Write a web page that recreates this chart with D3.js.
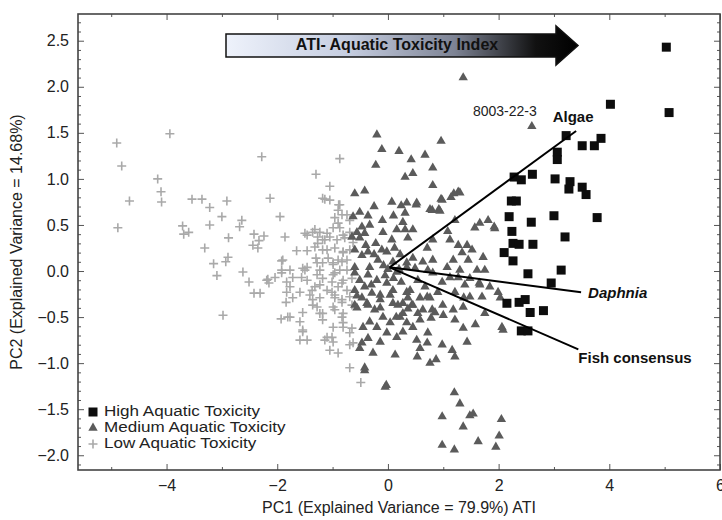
<!DOCTYPE html>
<html><head><meta charset="utf-8">
<script src="https://cdn.jsdelivr.net/npm/d3@7"></script>
<style>body{margin:0;background:#fff;} svg{display:block;font-family:"Liberation Sans",Arial,sans-serif;}</style>
</head><body><svg id="c" width="722" height="520"></svg>
<script>
// ---- data (PC1, PC2) ----
const highPoints = [[5.03,2.43],[4.02,1.81],[5.08,1.72],[3.22,1.47],[3.51,1.36],[3.73,1.36],[3.85,1.44],[3.06,1.29],[3.06,1.21],[2.61,1.05],[2.28,1.02],[2.41,0.99],[3.02,1.00],[3.29,0.97],[3.27,0.89],[3.51,0.91],[3.58,0.83],[2.23,0.76],[2.32,0.76],[2.19,0.59],[2.59,0.53],[3.00,0.60],[3.78,0.58],[2.24,0.43],[3.20,0.37],[2.26,0.30],[2.37,0.29],[2.62,0.29],[2.10,0.20],[2.26,0.11],[2.53,-0.03],[3.13,0.01],[2.95,-0.13],[2.15,-0.35],[2.37,-0.34],[2.48,-0.31],[2.57,-0.45],[2.81,-0.43],[2.41,-0.65],[2.53,-0.65]];
const mediumPoints = [[1.36,2.10],[2.60,1.57],[0.96,1.41],[-0.20,1.48],[-0.11,1.32],[-0.22,1.15],[0.20,1.30],[0.67,1.26],[0.42,1.21],[0.81,1.12],[0.31,1.02],[0.45,1.06],[0.81,0.93],[1.27,0.86],[1.19,0.84],[1.14,0.80],[0.96,0.78],[1.30,0.85],[0.07,0.75],[0.24,0.71],[0.51,0.72],[0.76,0.67],[0.92,0.67],[-0.60,0.84],[-0.42,0.87],[-0.51,0.64],[-0.36,0.60],[-0.63,0.59],[0.31,0.63],[-0.33,0.50],[-0.47,0.48],[-0.56,0.42],[-0.42,0.41],[-0.65,0.37],[-0.51,0.36],[-0.09,0.42],[0.16,0.45],[0.07,0.34],[0.36,0.36],[-0.40,0.28],[-0.60,0.23],[-0.36,0.21],[-0.47,0.17],[-0.18,0.12],[-0.02,0.21],[-0.11,0.23],[0.09,0.10],[0.34,0.09],[-0.33,0.04],[-0.60,0.04],[0.16,-0.01],[-0.60,-0.02],[-0.36,-0.04],[-0.51,-0.10],[-0.20,-0.10],[-0.02,-0.13],[-0.42,-0.17],[-0.60,-0.21],[-0.29,-0.24],[-0.14,-0.26],[-0.47,-0.29],[0.09,-0.21],[0.34,-0.23],[-0.60,-0.37],[-0.36,-0.37],[-0.14,-0.40],[0.18,-0.37],
[-0.56,-0.27],[-0.38,-0.35],[-0.56,-0.40],[-0.24,-0.42],[-0.14,-0.31],[0.04,-0.26],[0.09,-0.35],[0.36,-0.29],[0.45,-0.37],[0.63,-0.42],[-0.09,-0.50],[-0.33,-0.55],[-0.45,-0.61],[-0.20,-0.61],[0.04,-0.56],[0.22,-0.50],[0.34,-0.56],[0.45,-0.61],[0.58,-0.53],[0.72,-0.67],[-0.02,-0.67],[-0.36,-0.73],[-0.47,-0.78],[-0.14,-0.77],[0.16,-0.72],[0.27,-0.66],[0.52,-0.75],[0.58,-0.84],[-0.51,-0.84],[-0.27,-0.89],[0.13,-0.91],[-0.42,-1.05],[-0.42,-1.08],[-0.05,-1.26],[-0.03,-1.24],[0.71,-0.78],[0.71,-0.28],
[0.34,0.74],[0.52,0.74],[0.98,0.77],[0.80,0.66],[0.94,0.65],[0.27,0.53],[0.31,0.45],[0.45,0.45],[1.21,0.55],[1.66,0.52],[1.81,0.55],[1.93,0.46],[1.57,0.47],[1.08,0.43],[0.81,0.34],[1.12,0.34],[0.71,0.25],[1.27,0.28],[1.43,0.28],[1.52,0.23],[1.34,0.20],[1.72,0.15],[1.18,0.12],[1.45,0.12],[0.81,0.12],[0.63,0.10],[0.45,0.14],[0.34,0.04],[1.07,0.04],[1.30,0.01],[1.61,0.01],[1.75,0.01],[0.49,0.03],[0.72,0.01],[0.81,-0.02],[1.12,-0.07],[1.27,-0.07],[0.98,-0.12],[1.48,-0.08],[0.54,-0.10],[1.39,-0.15],[1.66,-0.15],[1.84,-0.17],[0.67,-0.17],[0.40,-0.21],[1.21,-0.23],[0.90,-0.23],[1.48,-0.28],[0.76,-0.29],[0.58,-0.29],[1.70,-0.28],[2.03,-0.29],[0.27,-0.35],[0.43,-0.37],[0.99,-0.37],[1.36,-0.39],[1.18,-0.42],[0.85,-0.45],[0.54,-0.46],[0.27,-0.46],[0.36,-0.41],
[0.53,-0.93],[0.76,-1.00],[0.87,-0.96],[1.21,-0.93],[1.16,-0.86],[1.43,-0.77],[0.98,-0.80],[2.08,-0.64],[1.58,-0.58],[1.36,-0.62],[1.21,-0.53],[1.00,-0.48],[0.78,-0.51],[0.80,-0.42],
[1.92,0.48],[1.65,-0.13],[1.99,-0.23],[2.06,-0.61],[1.75,-0.46],[1.37,-0.29],
[1.20,-1.32],[1.30,-1.44],[0.98,-1.58],[1.48,-1.57],[1.54,-1.55],[1.36,-1.69],[2.05,-1.61],[1.63,-1.85],[0.98,-1.89],[1.20,-1.94],[2.01,-1.79],[1.95,-1.91],
[0.00,0.02],[0.10,-0.08],[-0.08,0.06],[0.22,0.18],[-0.22,0.30],[0.24,-0.12],[-0.25,0.18],[0.12,0.25],[-0.05,-0.05],[0.20,0.02],[-0.30,-0.15],[0.15,-0.50],[-0.10,0.55],[0.10,0.60],[-0.25,0.70]];
const lowPoints = [[-4.90,1.39],[-4.81,1.14],[-4.67,0.76],[-4.88,0.47],[-3.94,1.49],[-4.16,1.00],[-4.10,0.86],[-4.09,0.75],[-3.54,0.78],[-3.36,0.78],[-3.22,0.69],[-2.91,0.76],[-3.00,0.59],[-3.22,0.50],[-3.71,0.49],[-3.69,0.40],[-3.60,0.42],[-3.31,0.25],[-2.88,0.36],[-2.64,0.55],[-2.68,0.48],[-2.28,1.24],[-2.13,0.79],[-2.42,0.40],[-2.33,0.33],[-2.24,0.38],[-2.44,0.28],[-2.35,0.25],[-1.95,0.59],[-1.86,0.37],[-3.15,0.08],[-2.93,0.10],[-2.89,0.15],[-2.62,-0.01],[-3.09,-0.05],[-2.51,-0.12],[-2.42,-0.24],[-2.31,-0.24],[-2.17,-0.09],[-2.15,-0.13],[-2.04,-0.07],[-1.92,-0.02],[-1.92,0.11],[-1.83,-0.12],[-1.83,-0.23],[-1.84,-0.34],[-1.93,-0.52],[-2.98,-0.48],[-1.81,-0.50],
[-0.87,1.22],[-1.30,1.05],[-1.05,0.92],[-1.14,0.78],[-1.05,0.77],[-0.89,0.72],[-0.90,0.66],[-0.96,0.58],[-0.83,0.61],[-0.99,0.47],[-0.87,0.47],[-1.46,0.39],[-1.32,0.45],[-1.23,0.42],[-1.18,0.34],[-1.05,0.37],[-0.92,0.34],[-0.81,0.39],[-1.27,0.30],[-1.46,0.22],[-1.65,0.22],[-1.10,0.23],[-0.96,0.25],[-0.81,0.20],[-1.90,0.12],[-1.30,0.14],[-1.18,0.09],[-0.99,0.09],[-0.83,0.10],[-0.74,0.01],[-1.92,0.01],[-1.77,0.01],[-1.46,0.04],[-1.28,-0.04],[-0.96,-0.02],[-2.19,-0.10],[-1.56,-0.07],[-1.50,0.01],[-1.23,-0.15],[-1.01,-0.12],[-0.83,-0.13],[-1.37,-0.21],[-1.01,-0.23],[-0.96,-0.29],[-0.83,-0.31],[-1.36,-0.31],[-1.77,-0.50],[-1.54,-0.45],[-1.28,-0.39],[-1.18,-0.46],[-0.96,-0.42],[-0.81,-0.46],[-1.54,-0.64],[-1.46,-0.75],[-1.14,-0.75],[-1.01,-0.72],[-0.81,-0.61],[-0.69,-0.67],
[-1.18,0.79],[-0.87,0.72],[-0.74,0.61],[-0.69,0.55],[-0.90,0.52],[-1.50,0.41],[-1.36,0.42],[-1.27,0.37],[-1.10,0.41],[-1.14,0.34],[-0.78,0.36],[-0.69,0.42],[-0.63,0.31],[-1.32,0.26],[-1.18,0.23],[-0.81,0.21],[-0.69,0.23],[-1.08,0.14],[-0.90,0.12],[-0.74,0.12],[-1.28,0.09],[-0.99,0.07],[-1.54,0.03],[-1.23,0.01],[-0.87,0.01],[-0.99,-0.04],[-1.72,-0.07],[-1.46,-0.10],[-1.18,-0.08],[-0.81,-0.10],[-0.65,-0.08],[-1.77,-0.17],[-1.32,-0.17],[-1.10,-0.21],[-0.90,-0.17],[-0.74,-0.21],[-1.59,-0.23],[-1.41,-0.26],[-0.96,-0.26],[-0.69,-0.28],[-1.72,-0.29],[-1.23,-0.29],[-1.36,-0.37],[-0.99,-0.39],[-0.65,-0.37],
[-0.83,-0.34],[-1.23,-0.46],[-0.83,-0.50],[-1.59,-0.55],[-1.18,-0.53],[-0.99,-0.61],[-0.81,-0.56],[-0.65,-0.62],[-1.54,-0.66],[-1.59,-0.75],[-1.10,-0.72],[-0.99,-0.77],[-0.63,-0.78],[-1.05,-0.86],[-0.69,-0.80],[-0.90,-0.89],[-0.69,-1.05],[-0.49,-1.21]];
const loadings = [
  {name:"Algae", pc1:3.40, pc2:1.52},
  {name:"Daphnia", pc1:3.49, pc2:-0.23},
  {name:"Fish consensus", pc1:3.44, pc2:-0.85}];
const loadingOrigin = [0.03, 0.04];
const annotation = {text:"8003-22-3", pc1:2.60, pc2:1.57};
const xMajorTicks = [-4,-2,0,2,4,6];
const yMajorTicks = [-2.0,-1.5,-1.0,-0.5,0.0,0.5,1.0,1.5,2.0,2.5];
const legendLabels = ["High Aquatic Toxicity","Medium Aquatic Toxicity","Low Aquatic Toxicity"];
const xTitle = "PC1 (Explained Variance = 79.9%) ATI";
const yTitle = "PC2 (Explained Variance = 14.68%)";
const arrowTitle = "ATI- Aquatic Toxicity Index";

// ---- layout ----
const L=78, R=720, T=14, B=470;
const svg = d3.select("#c");
const x = d3.scaleLinear().domain([-5.6,6.0]).range([L,R]);
const y = d3.scaleLinear().domain([-2.16,2.79]).range([B,T]);
const fmtMinus = s => s.replace("-", "\u2212");
const xMinor = d3.range(-5,7,1).filter(v=>!xMajorTicks.includes(v));
const yMinor = d3.range(-21,28,1).map(v=>v/10).filter(v=>Math.abs(v*2-Math.round(v*2))>1e-6);

function styleAxis(g){ g.select(".domain").remove(); g.selectAll("line").attr("stroke","#555").attr("stroke-width",1); g.selectAll("text").attr("fill","#222").style("font-size","16px").style("font-family","Liberation Sans, Arial, sans-serif"); }

// bottom
svg.append("g").attr("transform",`translate(0,${B})`).call(d3.axisBottom(x).tickValues(xMajorTicks).tickSize(-6).tickPadding(10).tickFormat(d=>fmtMinus(d3.format("d")(d)))).call(styleAxis);
svg.append("g").attr("transform",`translate(0,${B})`).call(d3.axisBottom(x).tickValues(xMinor).tickSize(-3).tickFormat("")).call(styleAxis);
// top
svg.append("g").attr("transform",`translate(0,${T})`).call(d3.axisTop(x).tickValues(xMajorTicks).tickSize(-6).tickFormat("")).call(styleAxis);
svg.append("g").attr("transform",`translate(0,${T})`).call(d3.axisTop(x).tickValues(xMinor).tickSize(-3).tickFormat("")).call(styleAxis);
// left
svg.append("g").attr("transform",`translate(${L},0)`).call(d3.axisLeft(y).tickValues(yMajorTicks).tickSize(-6).tickPadding(9).tickFormat(d=>fmtMinus(d3.format(".1f")(d)))).call(styleAxis);
svg.append("g").attr("transform",`translate(${L},0)`).call(d3.axisLeft(y).tickValues(yMinor).tickSize(-3).tickFormat("")).call(styleAxis);
// right
svg.append("g").attr("transform",`translate(${R},0)`).call(d3.axisRight(y).tickValues(yMajorTicks).tickSize(-6).tickFormat("")).call(styleAxis);
svg.append("g").attr("transform",`translate(${R},0)`).call(d3.axisRight(y).tickValues(yMinor).tickSize(-3).tickFormat("")).call(styleAxis);
// frame
svg.append("rect").attr("x",L).attr("y",T).attr("width",R-L).attr("height",B-T).attr("fill","none").attr("stroke","#444").attr("stroke-width",1.6);

// titles
svg.append("text").attr("x",(L+R)/2).attr("y",513).attr("text-anchor","middle").style("font-size","16px").attr("fill","#222").text(xTitle);
svg.append("text").attr("transform",`translate(22,${(T+B)/2}) rotate(-90)`).attr("text-anchor","middle").style("font-size","16px").attr("fill","#222").text(yTitle);

// arrow banner
const defs = svg.append("defs");
const grad = defs.append("linearGradient").attr("id","ag").attr("x1","0%").attr("x2","100%");
grad.append("stop").attr("offset","0%").attr("stop-color","#eef2fb");
grad.append("stop").attr("offset","35%").attr("stop-color","#c5cde0");
grad.append("stop").attr("offset","65%").attr("stop-color","#7d8394");
grad.append("stop").attr("offset","88%").attr("stop-color","#111");
grad.append("stop").attr("offset","100%").attr("stop-color","#000");
const ax0=226, ax1=556, axTip=578, ay0=34, ay1=57, ah0=26, ah1=65;
svg.append("path").attr("d",`M${ax0},${ay0}H${ax1}V${ah0}L${axTip},${(ay0+ay1)/2}L${ax1},${ah1}V${ay1}H${ax0}Z`)
  .attr("fill","url(#ag)").attr("stroke","#111").attr("stroke-width",1.5);
svg.append("text").attr("x",397).attr("y",46).attr("text-anchor","middle").attr("dominant-baseline","middle")
  .style("font-size","16px").style("font-weight","bold").attr("fill","#111").text(arrowTitle);

// points
const sq = d3.symbol().type(d3.symbolSquare).size(81);
const tri = d3.symbol().type(d3.symbolTriangle).size(38);
const plusPath = "M-4.5,0H4.5M0,-4.5V4.5";
svg.append("g").selectAll("path").data(lowPoints).join("path")
  .attr("d",plusPath).attr("transform",d=>`translate(${x(d[0])},${y(d[1])})`)
  .attr("stroke","#a9a9a9").attr("stroke-width",1.6).attr("fill","none");
svg.append("g").selectAll("path").data(mediumPoints).join("path")
  .attr("d",tri).attr("transform",d=>`translate(${x(d[0])},${y(d[1])})`).attr("fill","#5b5b5b");
svg.append("g").selectAll("path").data(highPoints).join("path")
  .attr("d",sq).attr("transform",d=>`translate(${x(d[0])},${y(d[1])})`).attr("fill","#0d0d0d");

// loadings
const lg = svg.append("g");
lg.selectAll("line").data(loadings).join("line")
  .attr("x1",x(loadingOrigin[0])).attr("y1",y(loadingOrigin[1]))
  .attr("x2",d=>x(d.pc1)).attr("y2",d=>y(d.pc2)).attr("stroke","#000").attr("stroke-width",2);
const labOff = {"Algae":[-3,-13,"middle","normal"],"Daphnia":[7,2,"start","italic"],"Fish consensus":[0,10,"start","normal"]};
lg.selectAll("text").data(loadings).join("text")
  .attr("x",d=>x(d.pc1)+labOff[d.name][0]).attr("y",d=>y(d.pc2)+labOff[d.name][1])
  .attr("text-anchor",d=>labOff[d.name][2]).attr("dominant-baseline","middle")
  .style("font-style",d=>labOff[d.name][3]).style("font-weight","bold").style("font-size","15px").attr("fill","#111").text(d=>d.name);
svg.append("text").attr("x",x(annotation.pc1)-27).attr("y",y(annotation.pc2)-14).attr("text-anchor","middle").attr("dominant-baseline","middle")
  .style("font-size","14px").attr("fill","#222").text(annotation.text);

// legend
const leg = svg.append("g").attr("transform","translate(93,412)");
const items = leg.selectAll("g").data(legendLabels).join("g").attr("transform",(d,i)=>`translate(0,${i*16})`);
items.filter((d,i)=>i===0).append("path").attr("d",sq).attr("fill","#0d0d0d");
items.filter((d,i)=>i===1).append("path").attr("d",tri).attr("fill","#5b5b5b");
items.filter((d,i)=>i===2).append("path").attr("d",plusPath).attr("stroke","#a9a9a9").attr("stroke-width",1.6);
items.append("text").attr("x",11).attr("dominant-baseline","middle").style("font-size","15.5px").attr("fill","#222").text(d=>d)
  .each(function(){ const w=this.getComputedTextLength(); d3.select(this).attr("textLength",w*1.1).attr("lengthAdjust","spacingAndGlyphs"); });
</script></body></html>
